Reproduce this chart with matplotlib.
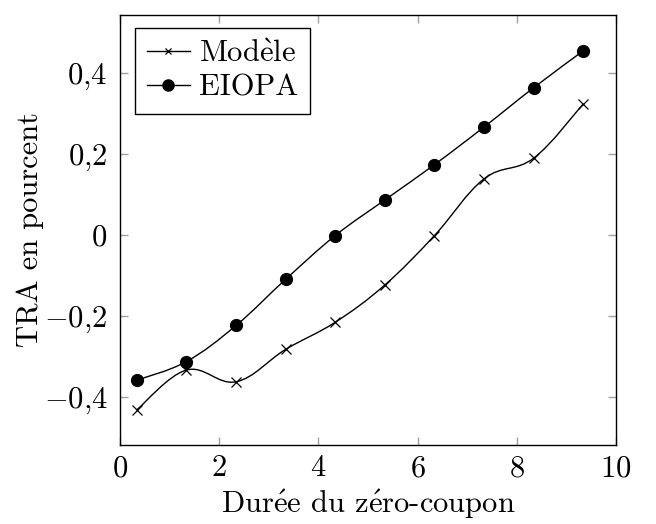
import numpy as np
import matplotlib
matplotlib.use("Agg")
import matplotlib.pyplot as plt
from matplotlib.path import Path
from matplotlib.patches import PathPatch
from matplotlib.lines import Line2D
from matplotlib.ticker import FuncFormatter

plt.rcParams['font.family'] = ['cmr10', 'DejaVu Serif']
plt.rcParams['mathtext.fontset'] = 'cm'
plt.rcParams['axes.unicode_minus'] = False

# data
x_vals = [0.34, 1.34, 2.34, 3.34, 4.34, 5.34, 6.34, 7.34, 8.34, 9.34]
modele = [-0.432, -0.334, -0.363, -0.283, -0.216, -0.124, -0.002, 0.138, 0.189, 0.323]
eiopa = [-0.359, -0.313, -0.224, -0.110, -0.002, 0.086, 0.173, 0.266, 0.363, 0.454]
series_names = ["Mod$\\grave{\\mathrm{e}}$le", "EIOPA"]
x_ticks = [0, 2, 4, 6, 8, 10]
y_ticks = [-0.4, -0.2, 0, 0.2, 0.4]
x_label = "Dur$\\acute{\\mathrm{e}}$e du z$\\acute{\\mathrm{e}}$ro-coupon"
y_label = "TRA en pourcent"

FS = 22

fig = plt.figure(figsize=(6.56, 5.24), dpi=100)
ax = fig.add_axes([0.1829, 0.1508, 0.939 - 0.1829, 0.9714 - 0.1508])


def smooth_path(xs, ys, tension=0.55):
    pts = np.column_stack([xs, ys]).astype(float)
    n = len(pts)
    verts = [pts[0]]
    codes = [Path.MOVETO]
    for i in range(n - 1):
        p0 = pts[i - 1] if i > 0 else pts[i]
        p1 = pts[i]
        p2 = pts[i + 1]
        p3 = pts[i + 2] if i + 2 < n else pts[i + 1]
        c1 = p1 + (p2 - p0) * tension / 3.0
        c2 = p2 - (p3 - p1) * tension / 3.0
        verts += [c1, c2, p2]
        codes += [Path.CURVE4] * 3
    return Path(verts, codes)


lw = 1.0
for ys in (modele, eiopa):
    ax.add_patch(PathPatch(smooth_path(x_vals, ys), facecolor='none',
                           edgecolor='black', lw=lw, zorder=2))

ax.plot(x_vals, modele, linestyle='none', marker='x', color='black',
        markersize=7, markeredgewidth=0.9, zorder=3)
ax.plot(x_vals, eiopa, linestyle='none', marker='o', color='black',
        markersize=8.5, zorder=3)

ax.set_xlim(0, 10)
ax.set_ylim(-0.519, 0.5425)
ax.set_xticks(x_ticks)
ax.set_yticks(y_ticks)


def fmt(v, pos):
    s = ("%g" % round(v, 2)).replace(".", "{,}")
    return "$" + s + "$"


ax.xaxis.set_major_formatter(FuncFormatter(fmt))
ax.yaxis.set_major_formatter(FuncFormatter(fmt))
ax.tick_params(axis='both', which='major', direction='in', length=6,
               width=1.0, color='#a0a0a0', labelsize=FS, top=True,
               right=True)
ax.tick_params(axis='x', pad=7)
ax.tick_params(axis='y', pad=9)
for sp in ax.spines.values():
    sp.set_linewidth(1.0)
    sp.set_color('black')

ax.set_xlabel(x_label, fontsize=FS, labelpad=4)
ax.set_ylabel(y_label, fontsize=FS, labelpad=0)

handles = [
    Line2D([], [], color='black', lw=lw, marker='x', markersize=5,
           markeredgewidth=0.9),
    Line2D([], [], color='black', lw=lw, marker='o', markersize=8),
]
leg = ax.legend(handles, series_names, loc='upper left', fontsize=FS,
                frameon=True, fancybox=False, edgecolor='black',
                framealpha=1, handlelength=1.4, handletextpad=0.3,
                borderpad=0.4, labelspacing=0.2,
                bbox_to_anchor=(0.03, 0.97), borderaxespad=0)
leg.get_frame().set_linewidth(1.0)

fig.savefig("out.png", dpi=100)
